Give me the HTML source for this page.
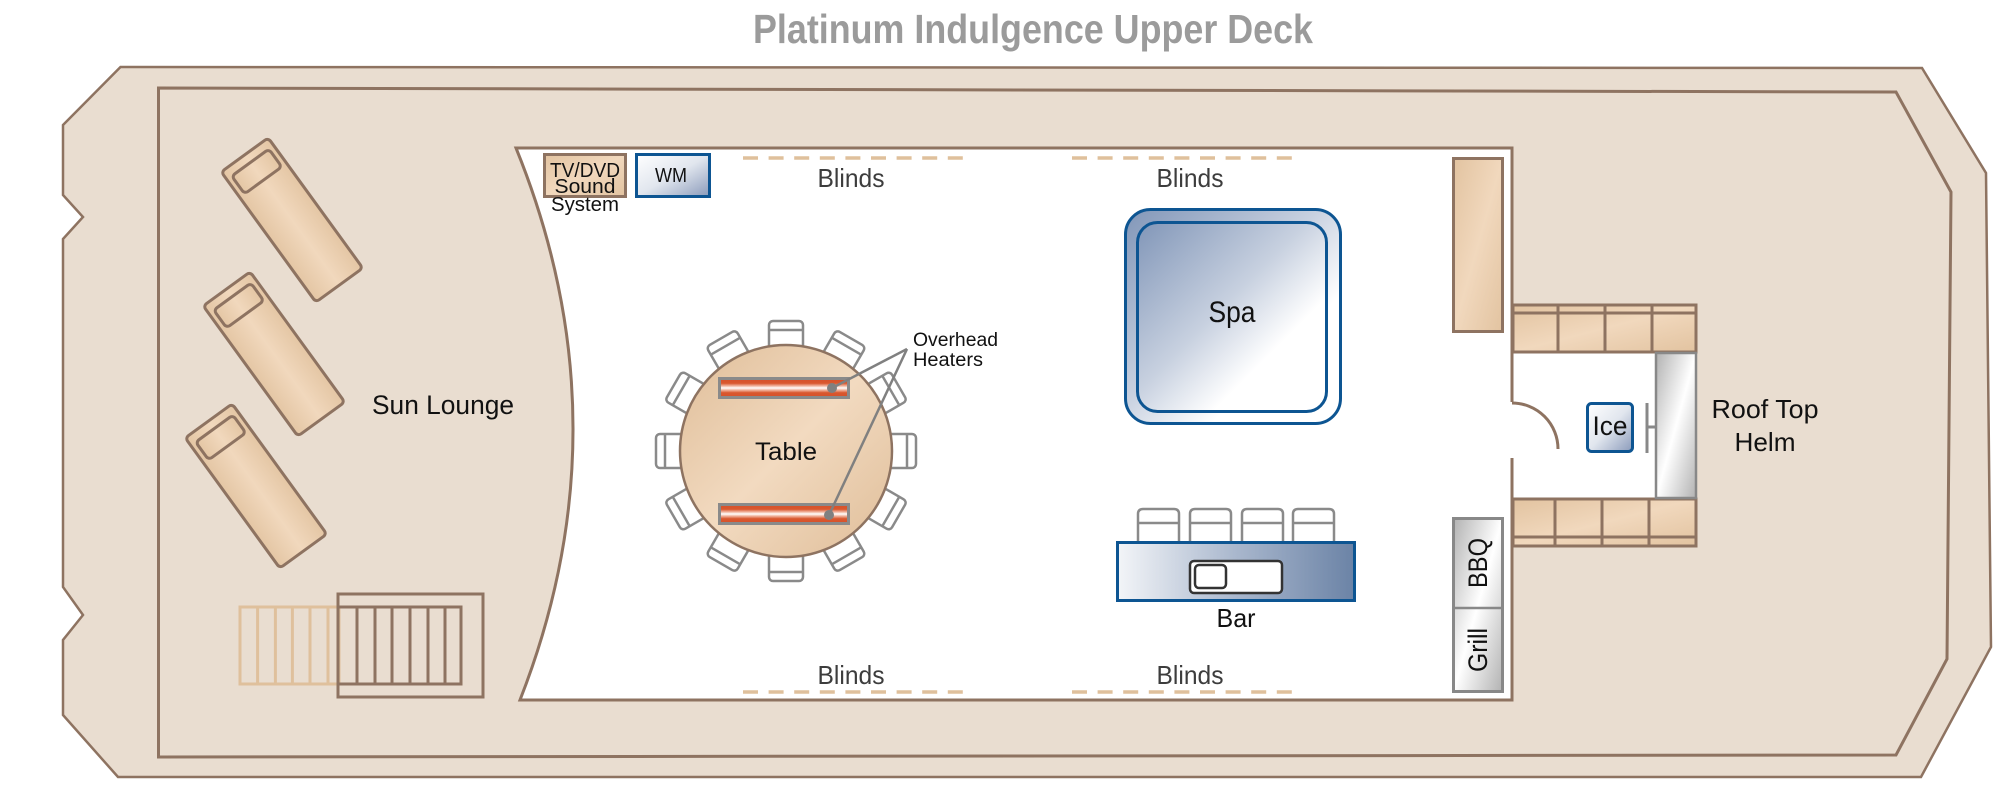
<!DOCTYPE html>
<html><head><meta charset="utf-8"><style>
html,body{margin:0;padding:0;background:#fff;}
svg{display:block;}
text{font-family:"Liberation Sans",sans-serif;}
</style></head><body>
<svg width="2000" height="787" viewBox="0 0 2000 787" xmlns="http://www.w3.org/2000/svg">
<defs>
<linearGradient id="tan" x1="0" y1="0" x2="1" y2="1"><stop offset="0" stop-color="#e2c3a0"/><stop offset="0.5" stop-color="#f1d8bd"/><stop offset="1" stop-color="#e2c3a0"/></linearGradient>
<linearGradient id="tanv" x1="0" y1="0" x2="1" y2="0"><stop offset="0" stop-color="#e4c6a4"/><stop offset="0.5" stop-color="#f1d8bd"/><stop offset="1" stop-color="#e4c6a4"/></linearGradient>
<linearGradient id="tbl" x1="0" y1="0" x2="1" y2="1"><stop offset="0" stop-color="#dfbd98"/><stop offset="0.5" stop-color="#f2dac0"/><stop offset="1" stop-color="#dfbd98"/></linearGradient>
<linearGradient id="spa" x1="0" y1="0" x2="1" y2="1"><stop offset="0" stop-color="#8196b8"/><stop offset="0.45" stop-color="#c8d1e0"/><stop offset="0.7" stop-color="#ffffff"/><stop offset="1" stop-color="#ffffff"/></linearGradient>
<linearGradient id="bar" x1="0" y1="0" x2="1" y2="0"><stop offset="0" stop-color="#f3f5f8"/><stop offset="0.5" stop-color="#a9b7cd"/><stop offset="1" stop-color="#6b83a6"/></linearGradient>
<linearGradient id="wm" x1="0" y1="0" x2="1" y2="1"><stop offset="0" stop-color="#ffffff"/><stop offset="0.5" stop-color="#e1e6ee"/><stop offset="1" stop-color="#8a9aba"/></linearGradient>
<linearGradient id="gray" x1="0" y1="0" x2="1" y2="1"><stop offset="0" stop-color="#b2b2b2"/><stop offset="0.5" stop-color="#ffffff"/><stop offset="1" stop-color="#b2b2b2"/></linearGradient>
<linearGradient id="heat" x1="0" y1="0" x2="0" y2="1"><stop offset="0" stop-color="#d6502a"/><stop offset="0.25" stop-color="#d9582f"/><stop offset="0.4" stop-color="#f2b9a4"/><stop offset="0.5" stop-color="#ffffff"/><stop offset="0.6" stop-color="#f2b9a4"/><stop offset="0.75" stop-color="#d9582f"/><stop offset="1" stop-color="#d6502a"/></linearGradient>
</defs>

<!-- Title -->
<text x="1033" y="43" text-anchor="middle" font-size="41" font-weight="bold" fill="#9b9b9b" textLength="560" lengthAdjust="spacingAndGlyphs">Platinum Indulgence Upper Deck</text>

<!-- Hull -->
<polygon points="120.5,67 1922,68 1986,173 1991,647 1921,777 118,777 63,715 63,640 83,615 63,587 63,239 83,217 63,195 63,125" fill="#e9ddd0" stroke="#8e7361" stroke-width="2.5" stroke-linejoin="miter"/>
<polygon points="158.5,88 1896,92 1951,192 1947,659 1896,755 158.5,757" fill="#e9ddd0" stroke="#8e7361" stroke-width="3"/>

<!-- Cabin white -->
<path d="M516,148 L1512,148 L1512,700 L520,700 Q628,424 516,148 Z" fill="#ffffff"/>
<rect x="1512" y="352" width="185" height="146" fill="#ffffff"/>
<path d="M1512,402 L1512,148 L516,148 Q628,424 520,700 L1512,700 L1512,458" fill="none" stroke="#8e7361" stroke-width="3"/>
<!-- door arc -->
<path d="M1512,403 A46,46 0 0 1 1558,449" fill="none" stroke="#8e7361" stroke-width="3"/>

<!-- Loungers -->
<g transform="translate(292,220) rotate(-36)">
<rect x="-29" y="-80.5" width="58" height="161" rx="4" fill="url(#tanv)" stroke="#8e7361" stroke-width="3"/>
<rect x="-23" y="-71" width="46" height="22" rx="4" fill="url(#tanv)" stroke="#8e7361" stroke-width="3"/>
</g>
<g transform="translate(274,354) rotate(-36)">
<rect x="-29" y="-80.5" width="58" height="161" rx="4" fill="url(#tanv)" stroke="#8e7361" stroke-width="3"/>
<rect x="-23" y="-71" width="46" height="22" rx="4" fill="url(#tanv)" stroke="#8e7361" stroke-width="3"/>
</g>
<g transform="translate(256,486) rotate(-36)">
<rect x="-29" y="-80.5" width="58" height="161" rx="4" fill="url(#tanv)" stroke="#8e7361" stroke-width="3"/>
<rect x="-23" y="-71" width="46" height="22" rx="4" fill="url(#tanv)" stroke="#8e7361" stroke-width="3"/>
</g>
<text x="372" y="414" font-size="27" fill="#111" textLength="142" lengthAdjust="spacingAndGlyphs">Sun Lounge</text>

<!-- Stairs -->
<g fill="none" stroke="#dfc09c" stroke-width="3">
<rect x="240" y="607" width="99" height="77"/>
<line x1="257.6" y1="607" x2="257.6" y2="684"/><line x1="275.4" y1="607" x2="275.4" y2="684"/><line x1="292.4" y1="607" x2="292.4" y2="684"/><line x1="310" y1="607" x2="310" y2="684"/><line x1="328" y1="607" x2="328" y2="684"/>
</g>
<g fill="none" stroke="#8e7361" stroke-width="3">
<rect x="338" y="594" width="145" height="103"/>
<rect x="338" y="607" width="123" height="77"/>
<line x1="357" y1="607" x2="357" y2="684"/><line x1="375" y1="607" x2="375" y2="684"/><line x1="392" y1="607" x2="392" y2="684"/><line x1="410" y1="607" x2="410" y2="684"/><line x1="428" y1="607" x2="428" y2="684"/><line x1="445" y1="607" x2="445" y2="684"/>
</g>

<!-- TV / WM -->
<rect x="544.5" y="154.5" width="81" height="42" fill="url(#tan)" stroke="#8e7361" stroke-width="3"/>
<text x="585" y="177" text-anchor="middle" font-size="20" fill="#111" textLength="70" lengthAdjust="spacingAndGlyphs">TV/DVD</text>
<text x="585" y="193" text-anchor="middle" font-size="20" fill="#111" textLength="61" lengthAdjust="spacingAndGlyphs">Sound</text>
<text x="585" y="211" text-anchor="middle" font-size="20" fill="#111" textLength="68" lengthAdjust="spacingAndGlyphs">System</text>
<rect x="636.5" y="154.5" width="73" height="42" fill="url(#wm)" stroke="#0d5592" stroke-width="3"/>
<text x="671" y="182" text-anchor="middle" font-size="20" fill="#111" textLength="32" lengthAdjust="spacingAndGlyphs">WM</text>

<!-- Blinds -->
<g stroke="#dfc09c" stroke-width="3.5" stroke-dasharray="15 10.6" fill="none">
<line x1="743" y1="158" x2="964" y2="158"/>
<line x1="1072" y1="158" x2="1293" y2="158"/>
<line x1="743" y1="692" x2="964" y2="692"/>
<line x1="1072" y1="692" x2="1293" y2="692"/>
</g>
<g font-size="26" fill="#3d3d3d" text-anchor="middle">
<text x="851" y="187" textLength="67" lengthAdjust="spacingAndGlyphs">Blinds</text>
<text x="1190" y="187" textLength="67" lengthAdjust="spacingAndGlyphs">Blinds</text>
<text x="851" y="684" textLength="67" lengthAdjust="spacingAndGlyphs">Blinds</text>
<text x="1190" y="684" textLength="67" lengthAdjust="spacingAndGlyphs">Blinds</text>
</g>

<!-- Table chairs -->
<g fill="#ffffff" stroke="#8a8a8a" stroke-width="2.5">
<g transform="translate(786,451) rotate(0)"><rect x="-17" y="-130" width="34" height="34" rx="4"/><line x1="-17" y1="-121" x2="17" y2="-121"/></g>
<g transform="translate(786,451) rotate(30)"><rect x="-17" y="-130" width="34" height="34" rx="4"/><line x1="-17" y1="-121" x2="17" y2="-121"/></g>
<g transform="translate(786,451) rotate(60)"><rect x="-17" y="-130" width="34" height="34" rx="4"/><line x1="-17" y1="-121" x2="17" y2="-121"/></g>
<g transform="translate(786,451) rotate(90)"><rect x="-17" y="-130" width="34" height="34" rx="4"/><line x1="-17" y1="-121" x2="17" y2="-121"/></g>
<g transform="translate(786,451) rotate(120)"><rect x="-17" y="-130" width="34" height="34" rx="4"/><line x1="-17" y1="-121" x2="17" y2="-121"/></g>
<g transform="translate(786,451) rotate(150)"><rect x="-17" y="-130" width="34" height="34" rx="4"/><line x1="-17" y1="-121" x2="17" y2="-121"/></g>
<g transform="translate(786,451) rotate(180)"><rect x="-17" y="-130" width="34" height="34" rx="4"/><line x1="-17" y1="-121" x2="17" y2="-121"/></g>
<g transform="translate(786,451) rotate(210)"><rect x="-17" y="-130" width="34" height="34" rx="4"/><line x1="-17" y1="-121" x2="17" y2="-121"/></g>
<g transform="translate(786,451) rotate(240)"><rect x="-17" y="-130" width="34" height="34" rx="4"/><line x1="-17" y1="-121" x2="17" y2="-121"/></g>
<g transform="translate(786,451) rotate(270)"><rect x="-17" y="-130" width="34" height="34" rx="4"/><line x1="-17" y1="-121" x2="17" y2="-121"/></g>
<g transform="translate(786,451) rotate(300)"><rect x="-17" y="-130" width="34" height="34" rx="4"/><line x1="-17" y1="-121" x2="17" y2="-121"/></g>
<g transform="translate(786,451) rotate(330)"><rect x="-17" y="-130" width="34" height="34" rx="4"/><line x1="-17" y1="-121" x2="17" y2="-121"/></g>
</g>
<!-- Table -->
<circle cx="786" cy="451" r="106" fill="url(#tbl)" stroke="#8e7361" stroke-width="2.5"/>
<text x="786" y="460" text-anchor="middle" font-size="25" fill="#111" textLength="62" lengthAdjust="spacingAndGlyphs">Table</text>
<!-- Heaters -->
<rect x="719.5" y="378.5" width="129" height="19" fill="url(#heat)" stroke="#8a8a8a" stroke-width="3"/>
<rect x="719.5" y="504.5" width="129" height="19" fill="url(#heat)" stroke="#8a8a8a" stroke-width="3"/>
<g stroke="#808080" stroke-width="2.5" fill="none">
<line x1="832" y1="388" x2="907" y2="349"/>
<line x1="829" y1="515" x2="907" y2="349"/>
</g>
<circle cx="832" cy="388" r="5" fill="#808080"/>
<circle cx="829" cy="515" r="5" fill="#808080"/>
<text x="913" y="346" font-size="19" fill="#111" textLength="85" lengthAdjust="spacingAndGlyphs">Overhead</text>
<text x="913" y="366" font-size="19" fill="#111" textLength="70" lengthAdjust="spacingAndGlyphs">Heaters</text>

<!-- Spa -->
<rect x="1125.5" y="209.5" width="215" height="214" rx="25" fill="url(#spa)" stroke="#0d5592" stroke-width="3"/>
<rect x="1137.5" y="222.5" width="189" height="189" rx="20" fill="url(#spa)" stroke="#0d5592" stroke-width="3"/>
<text x="1232" y="322" text-anchor="middle" font-size="30" fill="#111" textLength="47" lengthAdjust="spacingAndGlyphs">Spa</text>

<!-- Bar stools -->
<g fill="#ffffff" stroke="#8a8a8a" stroke-width="2.5">
<path d="M1138,541 V514 Q1138,509 1143,509 H1174 Q1179,509 1179,514 V541"/><line x1="1138" y1="523" x2="1179" y2="523"/>
<path d="M1190,541 V514 Q1190,509 1195,509 H1226 Q1231,509 1231,514 V541"/><line x1="1190" y1="523" x2="1231" y2="523"/>
<path d="M1242,541 V514 Q1242,509 1247,509 H1278 Q1283,509 1283,514 V541"/><line x1="1242" y1="523" x2="1283" y2="523"/>
<path d="M1293,541 V514 Q1293,509 1298,509 H1329 Q1334,509 1334,514 V541"/><line x1="1293" y1="523" x2="1334" y2="523"/>
</g>
<!-- Bar -->
<rect x="1117.5" y="542.5" width="237" height="58" fill="url(#bar)" stroke="#0d5592" stroke-width="3"/>
<rect x="1190" y="561" width="92" height="32" rx="4" fill="#ffffff" stroke="#333" stroke-width="2.5"/>
<rect x="1195" y="565" width="31" height="23" rx="4" fill="#ffffff" stroke="#333" stroke-width="2.5"/>
<text x="1236" y="627" text-anchor="middle" font-size="26" fill="#111" textLength="39" lengthAdjust="spacingAndGlyphs">Bar</text>

<!-- Tall cabinet -->
<rect x="1453.5" y="158.5" width="49" height="173" fill="url(#tan)" stroke="#8e7361" stroke-width="3"/>

<!-- BBQ / Grill -->
<rect x="1453.5" y="518.5" width="49" height="173" fill="url(#gray)" stroke="#888" stroke-width="3"/>
<line x1="1453" y1="608" x2="1503" y2="608" stroke="#888" stroke-width="2.5"/>
<text transform="translate(1487,563) rotate(-90)" text-anchor="middle" font-size="27" fill="#111" textLength="50" lengthAdjust="spacingAndGlyphs">BBQ</text>
<text transform="translate(1487,650) rotate(-90)" text-anchor="middle" font-size="27" fill="#111" textLength="44" lengthAdjust="spacingAndGlyphs">Grill</text>

<!-- Helm seating -->
<g fill="url(#tan)" stroke="#8e7361" stroke-width="3">
<rect x="1513" y="305" width="183" height="47"/>
<rect x="1513" y="499" width="183" height="47"/>
</g>
<g stroke="#8e7361" stroke-width="3" fill="none">
<line x1="1513" y1="313" x2="1696" y2="313"/>
<line x1="1558" y1="305" x2="1558" y2="352"/><line x1="1605" y1="305" x2="1605" y2="352"/><line x1="1652" y1="305" x2="1652" y2="352"/>
<line x1="1513" y1="537" x2="1696" y2="537"/>
<line x1="1555" y1="499" x2="1555" y2="546"/><line x1="1602" y1="499" x2="1602" y2="546"/><line x1="1649" y1="499" x2="1649" y2="546"/>
</g>
<!-- helm console -->
<rect x="1656" y="353" width="40" height="145" fill="url(#gray)" stroke="#888" stroke-width="2.5"/>
<line x1="1647" y1="403" x2="1647" y2="453" stroke="#888" stroke-width="3"/>
<line x1="1647" y1="427" x2="1656" y2="427" stroke="#888" stroke-width="3"/>
<!-- Ice -->
<rect x="1587.5" y="403.5" width="45" height="48" rx="4" fill="url(#wm)" stroke="#0d5592" stroke-width="3"/>
<text x="1610" y="435" text-anchor="middle" font-size="27" fill="#111" textLength="35" lengthAdjust="spacingAndGlyphs">Ice</text>

<text x="1765" y="418" text-anchor="middle" font-size="26" fill="#111" textLength="107" lengthAdjust="spacingAndGlyphs">Roof Top</text>
<text x="1765" y="451" text-anchor="middle" font-size="26" fill="#111" textLength="61" lengthAdjust="spacingAndGlyphs">Helm</text>
</svg>
</body></html>
